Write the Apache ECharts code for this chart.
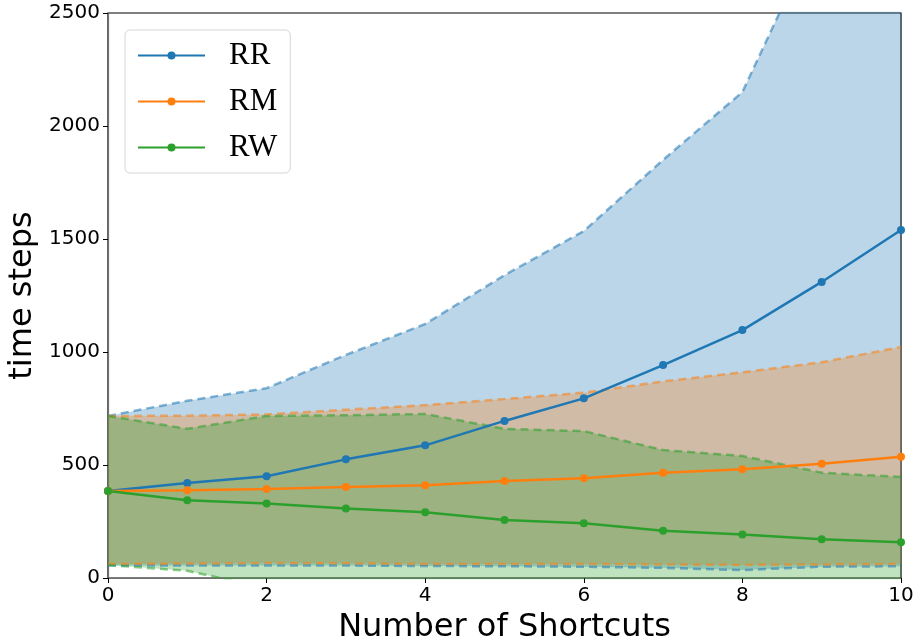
<!DOCTYPE html>
<html>
<head>
<meta charset="utf-8">
<script src="https://cdn.jsdelivr.net/npm/echarts@6/dist/echarts.min.js"></script>
<style>
  html, body { margin: 0; padding: 0; background: #fff; }
  #chart { width: 915px; height: 642px; }
</style>
</head>
<body>
<div id="chart"></div>
<script>
// number of shortcuts
const shortcuts = ['0', '1', '2', '3', '4', '5', '6', '7', '8', '9', '10']

// mean time steps
const rrMean = [385, 420, 450, 525, 587, 695, 795, 942, 1097, 1310, 1540]
const rmMean = [385, 388, 394, 403, 410, 429, 441, 466, 481, 506, 537]
const rwMean = [385, 344, 330, 308, 291, 257, 242, 209, 193, 171, 158]

// band bounds (dashed)
const rrUpper = [717, 784, 840, 987, 1124, 1340, 1535, 1850, 2150, 2900, 3600]
const rrLower = [55, 55, 55, 55, 53, 52, 50, 45, 35, 50, 52]
const rmUpper = [717, 718, 724, 745, 765, 792, 820, 870, 910, 955, 1022]
const rmLower = [62, 64, 66, 65, 62, 62, 62, 60, 58, 60, 62]
const rwUpper = [717, 660, 717, 720, 726, 660, 650, 566, 540, 466, 447]
const rwLower = [57, 32, -45, -80, -90, -95, -100, -100, -100, -100, -100]

const names = ['RR', 'RM', 'RW']
const colors = ['#1f77b4', '#ff7f0e', '#2ca02c']
const fills = ['rgba(31,119,180,0.3)', 'rgba(255,127,14,0.3)', 'rgba(44,160,44,0.3)']
const edges = ['rgba(31,119,180,0.55)', 'rgba(255,127,14,0.55)', 'rgba(44,160,44,0.55)']

const means = [rrMean, rmMean, rwMean]
const uppers = [rrUpper, rmUpper, rwUpper]
const lowers = [rrLower, rmLower, rwLower]

let series = []
names.forEach((name, i) => {
  // lower edge of the band
  series.push({
    name: name + '_lo',
    type: 'line',
    stack: 'band' + i,
    stackStrategy: 'all',
    data: lowers[i],
    symbol: 'none',
    lineStyle: { color: edges[i], width: 2.5, type: [8, 5] },
    z: 2,
    silent: true
  })
  // upper edge, stacked as a difference so the area fills between
  series.push({
    name: name + '_hi',
    type: 'line',
    stack: 'band' + i,
    stackStrategy: 'all',
    data: uppers[i].map((v, j) => v - lowers[i][j]),
    symbol: 'none',
    lineStyle: { color: edges[i], width: 2.5, type: [8, 5] },
    areaStyle: { color: fills[i], opacity: 1 },
    z: 2,
    silent: true
  })
})
names.forEach((name, i) => {
  series.push({
    name: name,
    type: 'line',
    data: means[i],
    symbol: 'circle',
    symbolSize: 8,
    color: colors[i],
    lineStyle: { color: colors[i], width: 2.5 },
    itemStyle: { color: colors[i] },
    z: 5
  })
})

const option = {
  animation: false,
  backgroundColor: '#fff',
  grid: {
    left: 108,
    right: 14,
    top: 13,
    bottom: 64,
    containLabel: false,
    outerBoundsMode: 'none',
    show: true,
    borderColor: '#000',
    borderWidth: 1.2,
    backgroundColor: 'transparent'
  },
  legend: {
    data: names,
    orient: 'vertical',
    left: 125,
    top: 30,
    padding: [10, 13, 10, 12],
    itemGap: 15,
    itemWidth: 67,
    itemHeight: 10,
    borderColor: '#d6d6d6',
    borderWidth: 1,
    borderRadius: 5,
    backgroundColor: 'rgba(255,255,255,0.8)',
    textStyle: {
      fontFamily: 'Liberation Serif',
      fontSize: 31,
      color: '#000',
      padding: [0, 0, 0, 19]
    }
  },
  xAxis: {
    type: 'category',
    data: shortcuts,
    boundaryGap: false,
    name: 'Number of Shortcuts',
    nameLocation: 'middle',
    nameGap: 34,
    nameTextStyle: { fontFamily: 'DejaVu Sans', fontSize: 32, color: '#000' },
    axisLine: { lineStyle: { color: '#707070', width: 1.2 } },
    axisTick: { interval: 1, length: 5, lineStyle: { color: '#000' } },
    axisLabel: { interval: 1, fontFamily: 'DejaVu Sans', fontSize: 20, color: '#000', margin: 8 },
    splitLine: { show: false }
  },
  yAxis: {
    type: 'value',
    min: 0,
    max: 2500,
    interval: 500,
    name: 'time steps',
    nameLocation: 'middle',
    nameGap: 54,
    nameTextStyle: { fontFamily: 'DejaVu Sans', fontSize: 32, color: '#000' },
    axisLine: { show: true, lineStyle: { color: '#707070', width: 1.2 } },
    axisTick: { show: true, length: 5, lineStyle: { color: '#000' } },
    axisLabel: {
      fontFamily: 'DejaVu Sans',
      fontSize: 20,
      color: '#000',
      margin: 8,
      formatter: v => String(v)
    },
    splitLine: { show: false }
  },
  series: series
}

const myChart = echarts.init(document.getElementById('chart'), null, { renderer: 'canvas' })
myChart.setOption(option)
</script>
</body>
</html>
